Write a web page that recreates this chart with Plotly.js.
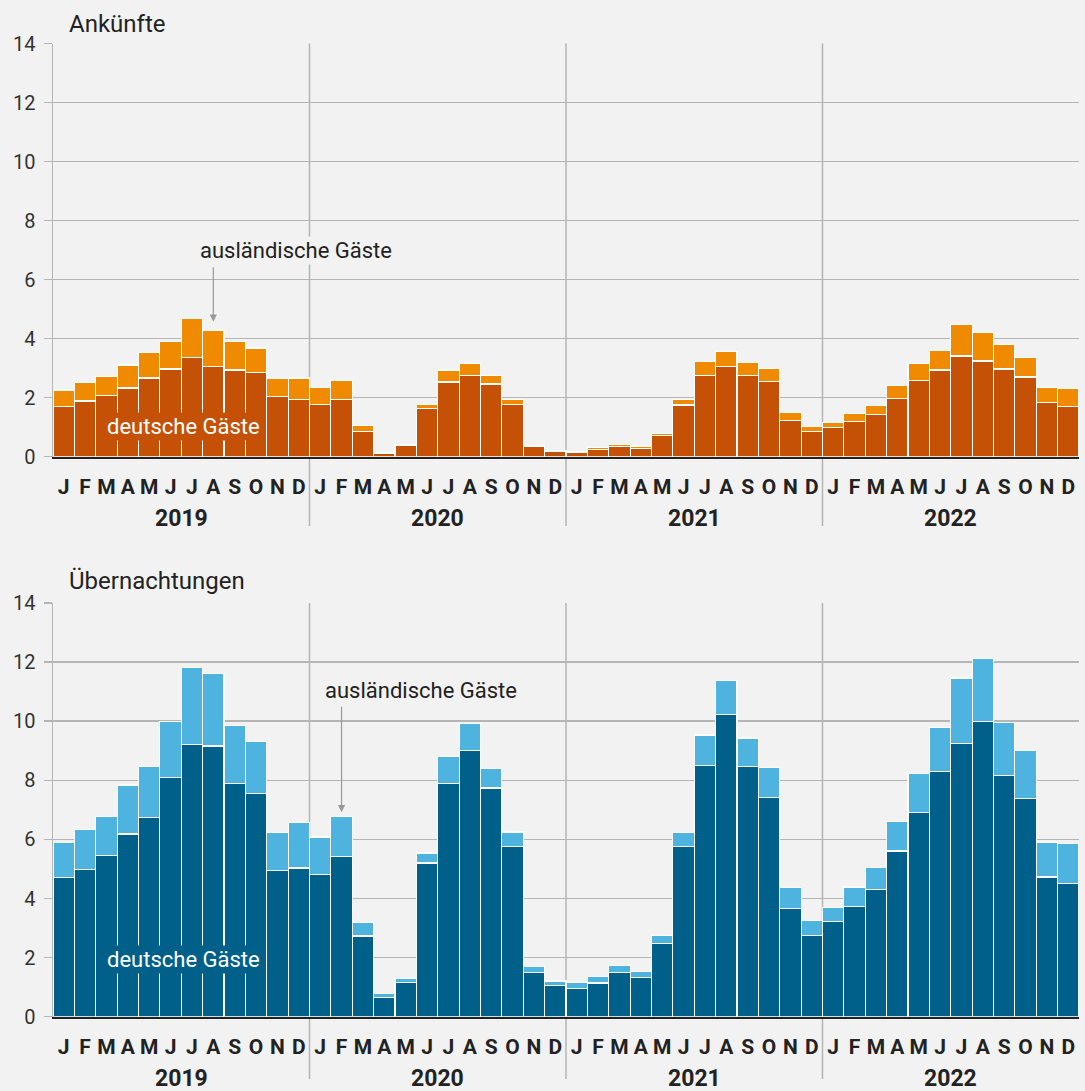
<!DOCTYPE html>
<html>
<head>
<meta charset="utf-8">
<script src="https://cdn.plot.ly/plotly-3.0.1.min.js"></script>
<style>
  html, body { margin: 0; padding: 0; background: #f2f2f2; }
  #chart { width: 1085px; height: 1091px; }
</style>
</head>
<body>
<div id="chart"></div>
<script>
// ---- Data (Mio.) ----
const months = ['J','F','M','A','M','J','J','A','S','O','N','D'];
const years = ['2019','2020','2021','2022'];

// Ankünfte
const ankDeutsche = [
  1.71, 1.89, 2.08, 2.33, 2.67, 2.97, 3.37, 3.06, 2.94, 2.86, 2.05, 1.95,
  1.76, 1.95, 0.86, 0.12, 0.37, 1.63, 2.53, 2.76, 2.46, 1.76, 0.34, 0.18,
  0.15, 0.24, 0.35, 0.29, 0.72, 1.75, 2.76, 3.06, 2.76, 2.56, 1.24, 0.86,
  0.98, 1.19, 1.44, 1.98, 2.59, 2.94, 3.41, 3.24, 2.97, 2.70, 1.84, 1.71
];
const ankAuslaendische = [
  0.55, 0.63, 0.63, 0.78, 0.86, 0.94, 1.31, 1.21, 0.96, 0.82, 0.59, 0.72,
  0.58, 0.63, 0.19, 0.02, 0.04, 0.14, 0.41, 0.40, 0.29, 0.18, 0.04, 0.04,
  0.03, 0.07, 0.05, 0.07, 0.06, 0.19, 0.47, 0.51, 0.43, 0.42, 0.25, 0.16,
  0.17, 0.27, 0.29, 0.43, 0.57, 0.65, 1.08, 0.96, 0.82, 0.67, 0.50, 0.60
];

// Übernachtungen
const uebDeutsche = [
  4.71, 4.97, 5.45, 6.18, 6.74, 8.10, 9.20, 9.16, 7.89, 7.54, 4.94, 5.03,
  4.82, 5.42, 2.73, 0.65, 1.16, 5.20, 7.89, 9.02, 7.74, 5.76, 1.49, 1.06,
  0.96, 1.14, 1.49, 1.33, 2.48, 5.76, 8.51, 10.23, 8.46, 7.42, 3.67, 2.76,
  3.23, 3.74, 4.30, 5.61, 6.91, 8.30, 9.24, 10.00, 8.17, 7.38, 4.73, 4.51
];
const uebAuslaendische = [
  1.19, 1.36, 1.33, 1.66, 1.73, 1.89, 2.62, 2.46, 1.96, 1.78, 1.30, 1.54,
  1.26, 1.36, 0.45, 0.14, 0.14, 0.34, 0.92, 0.89, 0.65, 0.49, 0.20, 0.15,
  0.19, 0.21, 0.24, 0.20, 0.26, 0.47, 1.02, 1.14, 0.97, 1.00, 0.69, 0.50,
  0.46, 0.65, 0.76, 0.99, 1.31, 1.48, 2.22, 2.11, 1.78, 1.62, 1.18, 1.35
];

// ---- Build ----
const FONT = 'Roboto, "Noto Sans", sans-serif';
const BG = '#f2f2f2';
const GRID = '#b5b5b5';
const TXT = '#222222';
const C_DE_A = '#c55107', C_AUS_A = '#f08a00';
const C_DE_U = '#00608a', C_AUS_U = '#4eb3df';

const xIdx = [];
const tickText = [];
years.forEach(() => months.forEach(m => { xIdx.push(xIdx.length); tickText.push(m); }));

function bar(y, color, xa, ya, name) {
  return {
    type: 'bar', x: xIdx, y: y, name: name, xaxis: xa, yaxis: ya,
    marker: { color: color, line: { color: '#ffffff', width: 1.2 } },
    hoverinfo: 'skip', showlegend: false
  };
}

const traces = [
  bar(ankDeutsche, C_DE_A, 'x', 'y', 'deutsche Gäste'),
  bar(ankAuslaendische, C_AUS_A, 'x', 'y', 'ausländische Gäste'),
  bar(uebDeutsche, C_DE_U, 'x2', 'y2', 'deutsche Gäste'),
  bar(uebAuslaendische, C_AUS_U, 'x2', 'y2', 'ausländische Gäste')
];

const H = 1091;
const pp = px => 1 - px / H;   // pixel row -> paper fraction

function xAxis(anchor) {
  return {
    anchor: anchor, domain: [0, 1], range: [-0.5, xIdx.length - 0.5],
    tickmode: 'array', tickvals: xIdx, ticktext: tickText,
    ticks: '', showgrid: false, zeroline: false,
    showline: true, linecolor: TXT, linewidth: 2.5,
    tickfont: { family: FONT, size: 21, color: TXT, weight: 700 },
    ticklabelstandoff: 10, fixedrange: true
  };
}
function yAxis(anchor, dom) {
  return {
    anchor: anchor, domain: dom, range: [0, 14], dtick: 2, tick0: 0,
    showgrid: true, gridcolor: GRID, gridwidth: 1.5, zeroline: false,
    showline: true, linecolor: GRID, linewidth: 1.5,
    ticks: 'outside', ticklen: 8, tickcolor: GRID, tickwidth: 1.5,
    tickfont: { family: FONT, size: 20, color: '#333333' },
    ticklabelstandoff: 4, fixedrange: true
  };
}

const shapes = [];
const annotations = [];
const panels = [
  { xa: 'x', ya: 'y', title: 'Ankünfte', titleY: 24, lineBottom: 526, yearY: 518.5, top: 43.5 },
  { xa: 'x2', ya: 'y2', title: 'Übernachtungen', titleY: 581, lineBottom: 1079, yearY: 1078.5, top: 603 }
];
panels.forEach(p => {
  for (let i = 1; i < years.length; i++) {
    shapes.push({
      type: 'line', xref: p.xa, yref: 'paper', layer: 'below',
      x0: i * months.length - 0.5, x1: i * months.length - 0.5,
      y0: pp(p.lineBottom), y1: pp(p.top),
      line: { color: GRID, width: 1.5 }
    });
  }
  years.forEach((yr, i) => {
    annotations.push({
      xref: p.xa, yref: 'paper', x: i * months.length + (months.length - 1) / 2, y: pp(p.yearY),
      text: yr, showarrow: false, xanchor: 'center', yanchor: 'middle',
      font: { family: FONT, size: 23, color: TXT, weight: 700 }
    });
  });
  annotations.push({
    xref: 'paper', yref: 'paper', x: 14 / 1027, y: pp(p.titleY),
    text: p.title, showarrow: false, xanchor: 'left', yanchor: 'middle',
    font: { family: FONT, size: 24, color: TXT }
  });
});

// labels
annotations.push(
  { xref: 'x', yref: 'y', x: 10.88, y: 6.97, text: 'ausländische Gäste', showarrow: false,
    bgcolor: BG, borderpad: 1, font: { family: FONT, size: 22, color: TXT } },
  { xref: 'x', yref: 'y', x: 7, y: 4.57, text: '', showarrow: true, ax: 0, ay: -56,
    arrowhead: 2, arrowsize: 1.2, arrowwidth: 1.2, arrowcolor: '#999999', standoff: 0 },
  { xref: 'x', yref: 'y', x: 5.6, y: 1.04, text: 'deutsche Gäste', showarrow: false,
    bgcolor: C_DE_A, borderpad: 1, font: { family: FONT, size: 22, color: '#ffffff' } },
  { xref: 'x2', yref: 'y2', x: 16.7, y: 11.05, text: 'ausländische Gäste', showarrow: false,
    bgcolor: BG, borderpad: 1, font: { family: FONT, size: 22, color: TXT } },
  { xref: 'x2', yref: 'y2', x: 13, y: 6.92, text: '', showarrow: true, ax: 0, ay: -107,
    arrowhead: 2, arrowsize: 1.2, arrowwidth: 1.2, arrowcolor: '#999999', standoff: 0 },
  { xref: 'x2', yref: 'y2', x: 5.6, y: 1.92, text: 'deutsche Gäste', showarrow: false,
    bgcolor: C_DE_U, borderpad: 1, font: { family: FONT, size: 22, color: '#ffffff' } }
);

const layout = {
  width: 1085, height: 1091,
  margin: { l: 53, r: 6, t: 0, b: 0, pad: 0 },
  paper_bgcolor: BG, plot_bgcolor: BG,
  barmode: 'stack', bargap: 0,
  font: { family: FONT, color: TXT },
  xaxis: xAxis('y'),
  yaxis: yAxis('x', [pp(456.7), pp(43.5)]),
  xaxis2: xAxis('y2'),
  yaxis2: yAxis('x2', [pp(1016.7), pp(603)]),
  shapes: shapes,
  annotations: annotations,
  showlegend: false
};

Plotly.newPlot('chart', traces, layout, { displayModeBar: false, staticPlot: true });
</script>
</body>
</html>
